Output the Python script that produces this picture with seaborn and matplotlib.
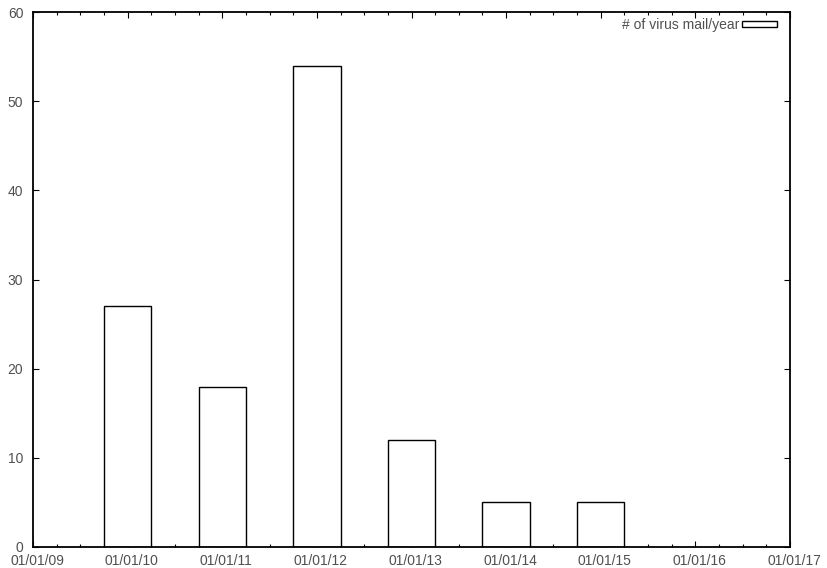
import matplotlib
matplotlib.use('Agg')
import matplotlib.pyplot as plt
import matplotlib.transforms as mtransforms
import seaborn as sns
import pandas as pd
from matplotlib.patches import Patch
from matplotlib.ticker import MultipleLocator, FuncFormatter

# data: virus mails per year (bars sit on 01/01 of each year)
years = [2010, 2011, 2012, 2013, 2014, 2015]
counts = [27, 18, 54, 12, 5, 5]
series_label = '# of virus mail/year'

df = pd.DataFrame({'year': years, 'count': counts})

sns.set_style("ticks")
plt.rcParams['font.family'] = ['Liberation Sans', 'DejaVu Sans']

fig = plt.figure(figsize=(8.27, 5.68), dpi=100)
ax = fig.add_axes([33 / 827, 1 - 547 / 568, (790 - 33) / 827, (547 - 12) / 568])

sns.barplot(data=df, x='year', y='count', native_scale=True, width=0.5,
            color='white', edgecolor='black', linewidth=1.0, ax=ax)

ax.set_xlim(2009, 2017)
ax.set_ylim(0, 60)
ax.xaxis.set_major_locator(MultipleLocator(1))
ax.xaxis.set_minor_locator(MultipleLocator(0.25))
ax.xaxis.set_major_formatter(FuncFormatter(lambda v, p: f"01/01/{int(round(v)) % 100:02d}"))
ax.yaxis.set_major_locator(MultipleLocator(10))
ax.set_xlabel('')
ax.set_ylabel('')

for s in ax.spines.values():
    s.set_visible(True)
    s.set_color('black')
    s.set_linewidth(1.3)

text_col = '#505050'
ax.tick_params(which='both', direction='in', top=True, right=True,
               colors='black', labelcolor=text_col, labelsize=10, width=0.8)
ax.tick_params(which='major', length=4.5)
ax.tick_params(axis='x', which='major', pad=5)
ax.tick_params(axis='y', which='major', pad=7)
ax.tick_params(which='minor', length=2.2)
ax.tick_params(axis='y', which='minor', left=False, right=False)

# gnuplot puts the date labels a few pixels right of the tick
fig.canvas.draw()
shift = mtransforms.ScaledTranslation(4 / 100, 0, fig.dpi_scale_trans)
for lab in ax.get_xticklabels():
    lab.set_transform(lab.get_transform() + shift)
# lift the "0" label a little so it clears the first date
lift = mtransforms.ScaledTranslation(0, 3 / 100, fig.dpi_scale_trans)
ylabs = ax.get_yticklabels()
ylabs[0].set_transform(ylabs[0].get_transform() + lift)

handles = [Patch(facecolor='white', edgecolor='black', linewidth=1.0, label=series_label)]
ax.legend(handles=handles, loc='upper right', frameon=False, markerfirst=False,
          fontsize=10, handlelength=2.5, handleheight=0.3, handletextpad=0.2,
          borderpad=0, borderaxespad=0, labelcolor=text_col,
          bbox_to_anchor=(777 / 827, 1 - 18 / 568), bbox_transform=fig.transFigure)

fig.savefig('out.png', dpi=100)
